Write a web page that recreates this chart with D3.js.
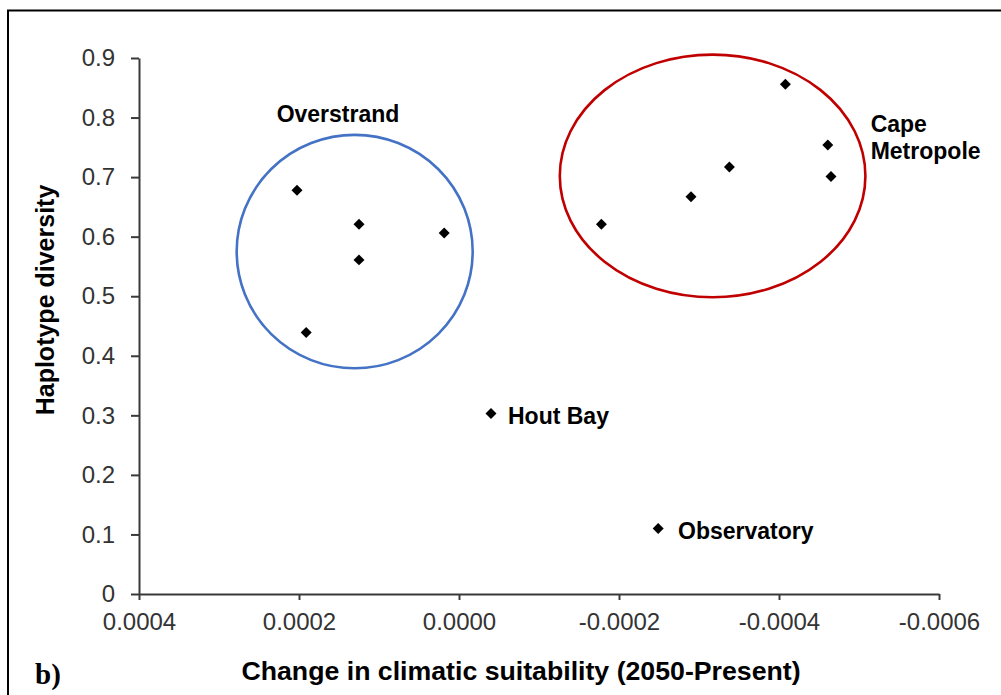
<!DOCTYPE html>
<html>
<head>
<meta charset="utf-8">
<script src="https://cdn.jsdelivr.net/npm/d3@7/dist/d3.min.js"></script>
<style>
  html, body { margin: 0; padding: 0; background: #fff; }
  svg { display: block; }
</style>
</head>
<body>
<svg id="chart" width="1001" height="695"></svg>
<script>
// Change in climatic suitability (2050 - present) per site, and haplotype diversity
const siteGroup  = ["Overstrand", "Overstrand", "Overstrand", "Overstrand", "Overstrand",
                    "Cape Metropole", "Cape Metropole", "Cape Metropole", "Cape Metropole", "Cape Metropole", "Cape Metropole",
                    "Hout Bay", "Observatory"];
const suitChange = [0.0002025, 0.000125, 0.000125, 0.0000185, 0.000191,
                    -0.000178, -0.000290, -0.000338, -0.000408, -0.000461, -0.000465,
                    -0.000040, -0.000249];
const haploDiv   = [0.678, 0.621, 0.561, 0.606, 0.439,
                    0.621, 0.667, 0.717, 0.856, 0.754, 0.701,
                    0.303, 0.110];

// Axis ticks
const xTicks      = [0.0004, 0.0002, 0.0, -0.0002, -0.0004, -0.0006];
const xTickLabels = ["0.0004", "0.0002", "0.0000", "-0.0002", "-0.0004", "-0.0006"];
const yTicks      = [0, 0.1, 0.2, 0.3, 0.4, 0.5, 0.6, 0.7, 0.8, 0.9];
const yTickLabels = ["0", "0.1", "0.2", "0.3", "0.4", "0.5", "0.6", "0.7", "0.8", "0.9"];

// Cluster outlines: centre and radii in data units
const clusterNames  = ["Overstrand", "Cape Metropole"];
const clusterCx     = [0.0001304, -0.000317];
const clusterCy     = [0.575, 0.702];
const clusterRx     = [0.0001475, 0.000191];
const clusterRy     = [0.196, 0.2037];
const clusterColors = ["#4472C4", "#C00000"];

// Text annotations (anchor in data units, y = baseline)
const noteText   = ["Overstrand", "Cape", "Metropole", "Hout Bay", "Observatory"];
const noteX      = [0.00015125, -0.0005146, -0.0005146, -0.00006125, -0.00027375];
const noteY      = [0.7923, 0.7755, 0.730, 0.286, 0.0925];
const noteAnchor = ["middle", "start", "start", "start", "start"];

const svg = d3.select("#chart");

// frame around the panel
svg.append("path")
  .attr("d", "M8,696 L8,10.5 L1002,10.5")
  .attr("fill", "none")
  .attr("stroke", "#000")
  .attr("stroke-width", 2);

const x = d3.scaleLinear().domain([0.0004, -0.0006]).range([139, 939]);
const y = d3.scaleLinear().domain([0, 0.9]).range([594, 58]);

const axisColor = "#3a3a3a";
const sansFont = "Arial, 'Liberation Sans', sans-serif";

// x axis
const xAxis = svg.append("g")
  .attr("transform", `translate(0,${y(0)})`)
  .call(d3.axisBottom(x)
    .tickValues(xTicks)
    .tickFormat((d, i) => xTickLabels[i])
    .tickSizeInner(6)
    .tickSizeOuter(0)
    .tickPadding(13));

// y axis
const yAxis = svg.append("g")
  .attr("transform", `translate(${x(0.0004)},0)`)
  .call(d3.axisLeft(y)
    .tickValues(yTicks)
    .tickFormat((d, i) => yTickLabels[i])
    .tickSizeInner(8)
    .tickSizeOuter(0)
    .tickPadding(16));

[xAxis, yAxis].forEach(g => {
  g.select(".domain").attr("stroke", axisColor).attr("stroke-width", 2);
  g.selectAll(".tick line").attr("stroke", axisColor).attr("stroke-width", 2);
  g.selectAll(".tick text")
    .attr("fill", "#333")
    .style("font-family", sansFont)
    .style("font-size", "24px");
});

// cluster outlines
svg.append("g").selectAll("ellipse")
  .data(clusterNames)
  .join("ellipse")
  .attr("cx", (d, i) => x(clusterCx[i]))
  .attr("cy", (d, i) => y(clusterCy[i]))
  .attr("rx", (d, i) => Math.abs(x(clusterRx[i]) - x(0)))
  .attr("ry", (d, i) => Math.abs(y(clusterRy[i]) - y(0)))
  .attr("fill", "none")
  .attr("stroke", (d, i) => clusterColors[i])
  .attr("stroke-width", 2.6);

// diamond markers
const diamond = d3.symbol().type(d3.symbolSquare).size(60);
svg.append("g").selectAll("path")
  .data(siteGroup)
  .join("path")
  .attr("d", diamond)
  .attr("transform", (d, i) => `translate(${x(suitChange[i])},${y(haploDiv[i])}) rotate(45)`)
  .attr("fill", "#000");

// annotations
svg.append("g").selectAll("text")
  .data(noteText)
  .join("text")
  .attr("x", (d, i) => x(noteX[i]))
  .attr("y", (d, i) => y(noteY[i]))
  .attr("text-anchor", (d, i) => noteAnchor[i])
  .style("font-family", sansFont)
  .style("font-weight", "bold")
  .style("font-size", "23px")
  .attr("fill", "#000")
  .text(d => d);

// axis titles
svg.append("text")
  .attr("x", 521)
  .attr("y", 680)
  .attr("text-anchor", "middle")
  .style("font-family", sansFont)
  .style("font-weight", "bold")
  .style("font-size", "26.7px")
  .text("Change in climatic suitability (2050-Present)");

svg.append("text")
  .attr("transform", "translate(54,300) rotate(-90)")
  .attr("text-anchor", "middle")
  .style("font-family", sansFont)
  .style("font-weight", "bold")
  .style("font-size", "25px")
  .text("Haplotype diversity");

// panel letter
svg.append("text")
  .attr("x", 35)
  .attr("y", 684)
  .style("font-family", "'Times New Roman', 'Liberation Serif', serif")
  .style("font-weight", "bold")
  .style("font-size", "29px")
  .text("b)");
</script>
</body>
</html>
